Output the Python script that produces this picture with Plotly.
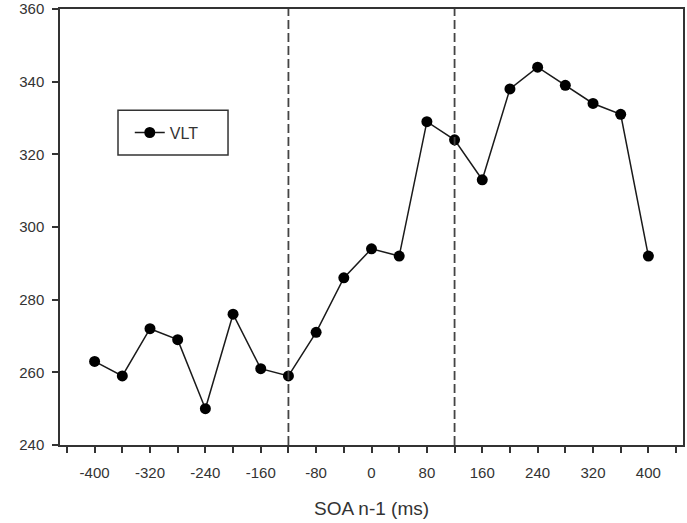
import plotly.graph_objects as go

soa = [-400, -360, -320, -280, -240, -200, -160, -120, -80, -40, 0, 40, 80, 120, 160, 200, 240, 280, 320, 360, 400]
vlt = [263, 259, 272, 269, 250, 276, 261, 259, 271, 286, 294, 292, 329, 324, 313, 338, 344, 339, 334, 331, 292]
divider_x = [-120, 120]
x_ticks = [-400, -320, -240, -160, -80, 0, 80, 160, 240, 320, 400]
x_labels = ["-400", "-320", "-240", "-160", "-80", "0", "80", "160", "240", "320", "400"]
y_ticks = [240, 260, 280, 300, 320, 340, 360]

FONT = "Liberation Sans, Arial"
INK = "#333333"

fig = go.Figure()
fig.add_trace(go.Scatter(
    x=soa, y=vlt, mode="lines+markers", name="VLT",
    line=dict(color="#1a1a1a", width=1.5),
    marker=dict(color="black", size=11),
))

for xv in divider_x:
    fig.add_shape(type="line", xref="x", yref="paper", x0=xv, x1=xv, y0=0, y1=1,
                  line=dict(color="#444444", width=1.8, dash="9px,4px"))

# legend frame
fig.add_shape(type="rect", xref="paper", yref="paper", x0=0.0931, x1=0.2697, y0=0.665, y1=0.768,
              line=dict(color=INK, width=1.5), fillcolor="rgba(0,0,0,0)", layer="above")

axis_common = dict(showline=True, linecolor=INK, linewidth=1.5, mirror=True,
                   showgrid=False, zeroline=False, ticks="outside", ticklen=6,
                   tickwidth=1.5, tickcolor=INK, automargin=False,
                   tickfont=dict(family=FONT, size=15, color=INK))

fig.update_xaxes(range=[-450, 450], tickvals=x_ticks, ticktext=x_labels, ticklabelstandoff=7,
                 minor=dict(tickvals=list(range(-440, 441, 40)), ticks="outside", ticklen=6,
                            tickwidth=1.5, tickcolor=INK),
                 title=dict(text="SOA n-1 (ms)", font=dict(family=FONT, size=19, color=INK),
                            standoff=22),
                 **axis_common)
fig.update_yaxes(range=[240, 360], tickvals=y_ticks, ticklabelstandoff=5, **axis_common)

fig.update_layout(
    width=687, height=523,
    margin=dict(l=60, r=4, t=9, b=78),
    paper_bgcolor="white", plot_bgcolor="white",
    showlegend=True,
    legend=dict(x=0.112, y=0.7165, xanchor="left", yanchor="middle",
                borderwidth=0, bgcolor="rgba(0,0,0,0)",
                font=dict(family=FONT, size=16, color=INK)),
)

fig.write_html("out.html", config={"displayModeBar": False},
               post_script="document.body.style.margin='0';")
